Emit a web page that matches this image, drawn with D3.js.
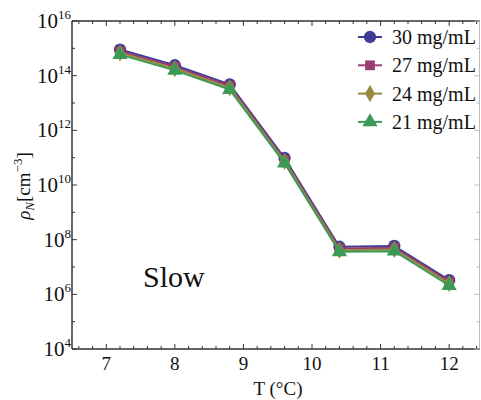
<!DOCTYPE html>
<html>
<head>
<meta charset="utf-8">
<script src="https://cdn.jsdelivr.net/npm/d3@7"></script>
<style>
  html, body { margin: 0; padding: 0; background: #fff; }
  svg { display: block; font-family: "Liberation Serif", "Times New Roman", serif; }
</style>
</head>
<body>
<div id="chart"></div>
<script>
// temperatures (°C)
const temps = [7.2, 8.0, 8.8, 9.6, 10.4, 11.2, 12.0];

// rho_N values per concentration
const rho30 = [9.0e14, 2.4e14, 4.8e13, 9.7e10, 5.5e7, 5.9e7, 3.3e6];
const rho27 = [7.8e14, 2.1e14, 4.2e13, 8.4e10, 4.8e7, 5.1e7, 2.9e6];
const rho24 = [6.8e14, 1.8e14, 3.6e13, 7.3e10, 4.1e7, 4.4e7, 2.5e6];
const rho21 = [5.9e14, 1.56e14, 3.1e13, 6.3e10, 3.6e7, 3.8e7, 2.1e6];

const seriesNames = ["30 mg/mL", "27 mg/mL", "24 mg/mL", "21 mg/mL"];
const xTicks = [7, 8, 9, 10, 11, 12];
const yExponents = [4, 6, 8, 10, 12, 14, 16];

(function () {
    const W = 481, H = 400;
    const margin = { top: 21, right: 1, bottom: 51, left: 72 };

    const colors = ["#3f3d99", "#993d71", "#998b3d", "#3d9956"];
    const symbols = [d3.symbolCircle, d3.symbolSquare, d3.symbolDiamond, d3.symbolTriangle];
    const symSizes = [120, 95, 85, 100];

    const series = [rho30, rho27, rho24, rho21].map((vals, i) => ({
        name: seriesNames[i],
        color: colors[i],
        symbol: symbols[i],
        size: symSizes[i],
        points: temps.map((t, j) => ({ t: t, v: vals[j] }))
    }));

    const svg = d3.select("#chart").append("svg")
        .attr("width", W)
        .attr("height", H);

    const x = d3.scaleLinear()
        .domain([6.5, 12.45])
        .range([margin.left, W - margin.right]);

    const y = d3.scaleLog()
        .domain([1e4, 1e16])
        .range([H - margin.bottom, margin.top]);

    const x0 = margin.left, x1 = W - margin.right;
    const y0 = H - margin.bottom, y1 = margin.top;
    const axisColor = "#333";

    // ---------- frame ----------
    svg.append("line").attr("x1", x0).attr("x2", x0).attr("y1", y0).attr("y2", y1)
        .attr("stroke", axisColor).attr("stroke-width", 1.5);
    svg.append("line").attr("x1", x0).attr("x2", x1).attr("y1", y0).attr("y2", y0)
        .attr("stroke", axisColor).attr("stroke-width", 1.5);
    svg.append("line").attr("x1", x0).attr("x2", x1).attr("y1", y1).attr("y2", y1)
        .attr("stroke", axisColor).attr("stroke-width", 1.5);
    svg.append("line").attr("x1", x1 - 0.5).attr("x2", x1 - 0.5).attr("y1", y0).attr("y2", y1)
        .attr("stroke", "#bbb").attr("stroke-width", 1);

    // x ticks every 0.2, major at integers
    const xMinor = d3.range(6.6, 12.45, 0.2).map(v => Math.round(v * 10) / 10);
    xMinor.forEach(v => {
        const major = Math.abs(v - Math.round(v)) < 1e-6;
        const len = major ? 5 : 3;
        svg.append("line").attr("x1", x(v)).attr("x2", x(v))
            .attr("y1", y0).attr("y2", y0 - len)
            .attr("stroke", axisColor).attr("stroke-width", 1);
        svg.append("line").attr("x1", x(v)).attr("x2", x(v))
            .attr("y1", y1).attr("y2", y1 + len)
            .attr("stroke", axisColor).attr("stroke-width", 1);
    });

    svg.selectAll(".xlab")
        .data(xTicks)
        .enter()
        .append("text")
        .attr("class", "xlab")
        .attr("x", d => x(d))
        .attr("y", y0 + 21)
        .attr("text-anchor", "middle")
        .attr("font-size", 19)
        .attr("fill", "#111")
        .text(d => d);

    // y ticks: major on even decades, minor on odd
    d3.range(4, 17).forEach(e => {
        const major = e % 2 === 0;
        const len = major ? 5 : 3;
        const yy = y(Math.pow(10, e));
        svg.append("line").attr("x1", x0).attr("x2", x0 + len)
            .attr("y1", yy).attr("y2", yy)
            .attr("stroke", axisColor).attr("stroke-width", 1);
        svg.append("line").attr("x1", x1 - 0.5).attr("x2", x1 - 0.5 - len)
            .attr("y1", yy).attr("y2", yy)
            .attr("stroke", "#bbb").attr("stroke-width", 1);
    });

    const ylab = svg.selectAll(".ylab")
        .data(yExponents)
        .enter()
        .append("text")
        .attr("class", "ylab")
        .attr("x", x0 - 1)
        .attr("y", d => y(Math.pow(10, d)) + 7)
        .attr("text-anchor", "end")
        .attr("font-size", 21)
        .attr("fill", "#111");
    ylab.append("tspan").text("10");
    ylab.append("tspan")
        .attr("dy", -9)
        .attr("font-size", 13)
        .text(d => d);

    // axis titles
    svg.append("text")
        .attr("x", 278)
        .attr("y", 395)
        .attr("text-anchor", "middle")
        .attr("font-size", 19)
        .attr("fill", "#111")
        .text("T (°C)");

    const yt = svg.append("text")
        .attr("transform", "translate(30,186) rotate(-90)")
        .attr("text-anchor", "middle")
        .attr("font-size", 19)
        .attr("fill", "#111");
    yt.append("tspan").attr("font-style", "italic").text("ρ");
    yt.append("tspan").attr("font-style", "italic").attr("font-size", 13).attr("dy", 4).text("N");
    yt.append("tspan").attr("dy", -4).text("[cm");
    yt.append("tspan").attr("font-size", 13).attr("dy", -8).text("−3");
    yt.append("tspan").attr("dy", 8).text("]");

    // annotation
    svg.append("text")
        .attr("x", 143)
        .attr("y", 287)
        .attr("font-size", 30)
        .attr("fill", "#111")
        .text("Slow");

    // ---------- series ----------
    const line = d3.line()
        .x(d => x(d.t))
        .y(d => y(d.v));

    series.forEach(s => {
        const grp = svg.append("g").attr("class", "series");
        grp.append("path")
            .datum(s.points)
            .attr("d", line)
            .attr("fill", "none")
            .attr("stroke", s.color)
            .attr("stroke-width", 2);
        grp.selectAll(".mk")
            .data(s.points)
            .enter()
            .append("path")
            .attr("class", "mk")
            .attr("transform", d => `translate(${x(d.t)},${y(d.v)})`)
            .attr("d", d3.symbol().type(s.symbol).size(s.size))
            .attr("fill", s.color);
    });

    // ---------- legend ----------
    const legend = svg.append("g").attr("class", "legend");
    const items = legend.selectAll(".legend-item")
        .data(series)
        .enter()
        .append("g")
        .attr("class", "legend-item")
        .attr("transform", (d, i) => `translate(0, ${37 + i * 28.3})`);

    items.append("line")
        .attr("x1", 358).attr("x2", 382)
        .attr("stroke", d => d.color)
        .attr("stroke-width", 2);
    items.append("path")
        .attr("transform", "translate(370,0)")
        .attr("d", d => d3.symbol().type(d.symbol).size(d.size)())
        .attr("fill", d => d.color);
    items.append("text")
        .attr("x", 392)
        .attr("y", 7)
        .attr("font-size", 20)
        .attr("fill", "#111")
        .text(d => d.name);
})();
</script>
</body>
</html>
